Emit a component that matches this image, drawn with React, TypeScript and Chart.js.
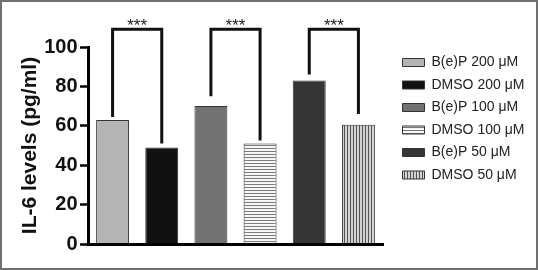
import React, { useEffect, useRef } from "react";
import { Chart, registerables } from "chart.js";

Chart.register(...registerables);

const categories = ["B(e)P 200 μM", "DMSO 200 μM", "B(e)P 100 μM", "DMSO 100 μM", "B(e)P 50 μM", "DMSO 50 μM"];
const values = [63, 49, 70, 51, 83, 60.5];
const yTicks = [0, 20, 40, 60, 80, 100];
const bracketPairs = [[0, 1], [2, 3], [4, 5]];
const bracketTop = [109, 109, 109];
const bracketLeftEnd = [64.5, 75, 86];
const bracketRightEnd = [51, 52.5, 66];
const bracketLabels = ["***", "***", "***"];

const FONT = "'Liberation Sans', Arial, sans-serif";
const LEGEND_WIDTH = 142;

function makePattern(kind: "h" | "v"): CanvasPattern | string {
  const c = document.createElement("canvas");
  if (kind === "h") {
    c.width = 6; c.height = 3;
    const g = c.getContext("2d")!;
    g.fillStyle = "#f6f6f6"; g.fillRect(0, 0, 6, 3);
    g.fillStyle = "#7a7a7a"; g.fillRect(0, 2, 6, 1);
  } else {
    c.width = 3; c.height = 6;
    const g = c.getContext("2d")!;
    g.fillStyle = "#d2d2d2"; g.fillRect(0, 0, 3, 6);
    g.fillStyle = "#555555"; g.fillRect(0, 0, 1, 6);
  }
  const ctx = document.createElement("canvas").getContext("2d")!;
  return ctx.createPattern(c, "repeat") || "#999";
}

const legendWidthPlugin = {
  id: "legendWidth",
  beforeLayout(chart: any) {
    const lg = chart.legend;
    if (lg && !lg.__fixedWidth) {
      const orig = lg.fit.bind(lg);
      lg.fit = function () {
        orig();
        this.width = LEGEND_WIDTH;
      };
      lg.__fixedWidth = true;
    }
  },
};

const bracketPlugin = {
  id: "brackets",
  afterDatasetsDraw(chart: any) {
    const { ctx, scales } = chart;
    const x = scales.x, y = scales.y;
    ctx.save();
    ctx.strokeStyle = "#111";
    ctx.lineWidth = 3;
    ctx.lineJoin = "miter";
    ctx.lineCap = "butt";
    bracketPairs.forEach((p, i) => {
      const xl = x.getPixelForValue(p[0]);
      const xr = x.getPixelForValue(p[1]);
      const yt = y.getPixelForValue(bracketTop[i]);
      ctx.beginPath();
      ctx.moveTo(xl, y.getPixelForValue(bracketLeftEnd[i]));
      ctx.lineTo(xl, yt);
      ctx.lineTo(xr, yt);
      ctx.lineTo(xr, y.getPixelForValue(bracketRightEnd[i]));
      ctx.stroke();
      ctx.fillStyle = "#222";
      ctx.font = `17px ${FONT}`;
      ctx.textAlign = "center";
      ctx.textBaseline = "alphabetic";
      ctx.fillText(bracketLabels[i], (xl + xr) / 2, yt + 2);
    });
    ctx.restore();
  },
};

export default function App() {
  const ref = useRef<HTMLCanvasElement>(null);
  useEffect(() => {
    const fills: any[] = ["#b4b4b4", "#111111", "#727272", makePattern("h"), "#353535", makePattern("v")];
    const datasets = categories.map((name, i) => ({
      label: name,
      data: categories.map((_, j) => (j === i ? values[i] : null)),
      backgroundColor: fills[i],
      borderColor: "#333",
      borderWidth: 1,
      grouped: false,
      barPercentage: 0.67,
      categoryPercentage: 1,
    }));
    const chart = new Chart(ref.current!, {
      type: "bar",
      data: { labels: categories, datasets },
      plugins: [legendWidthPlugin, bracketPlugin],
      options: {
        animation: false,
        responsive: false,
        layout: { padding: { top: 45, right: 0, bottom: 0, left: 0 } },
        plugins: {
          tooltip: { enabled: false },
          legend: {
            position: "right",
            align: "start",
            labels: {
              boxWidth: 22,
              boxHeight: 8,
              padding: 8.5,
              color: "#222",
              font: { size: 14, family: FONT },
            },
          },
        },
        scales: {
          x: {
            type: "category",
            grid: { display: false },
            ticks: { display: false },
            border: { display: true, color: "#000", width: 3, z: 1 },
            afterFit: (s: any) => { s.height = 24; },
          },
          y: {
            min: 0,
            max: 100,
            afterBuildTicks: (s: any) => { s.ticks = yTicks.map((v) => ({ value: v })); },
            ticks: {
              color: "#111",
              padding: 2.5,
              font: { size: 20, weight: "bold", family: FONT },
            },
            grid: {
              display: true,
              drawOnChartArea: false,
              drawTicks: true,
              tickLength: 8,
              tickWidth: 2.5,
              tickColor: "#000",
            },
            border: { display: true, color: "#000", width: 3 },
            title: {
              display: true,
              text: "IL-6 levels (pg/ml)",
              color: "#111",
              font: { size: 21, weight: "bold", family: FONT },
              padding: { top: 15.5, bottom: 0 },
            },
            afterFit: (s: any) => { s.width = 86; },
          },
          spacer: {
            type: "linear",
            position: "right",
            display: true,
            grid: { display: false },
            ticks: { display: false },
            border: { display: false },
            afterFit: (s: any) => { s.width = 11; },
          },
        },
      } as any,
    });
    return () => chart.destroy();
  }, []);
  return (
    <div
      style={{
        position: "absolute",
        left: 0,
        top: 0,
        width: 538,
        height: 270,
        boxSizing: "border-box",
        border: "2px solid #707070",
        background: "#fff",
      }}
    >
      <canvas ref={ref} width={534} height={266} style={{ display: "block" }} />
    </div>
  );
}
